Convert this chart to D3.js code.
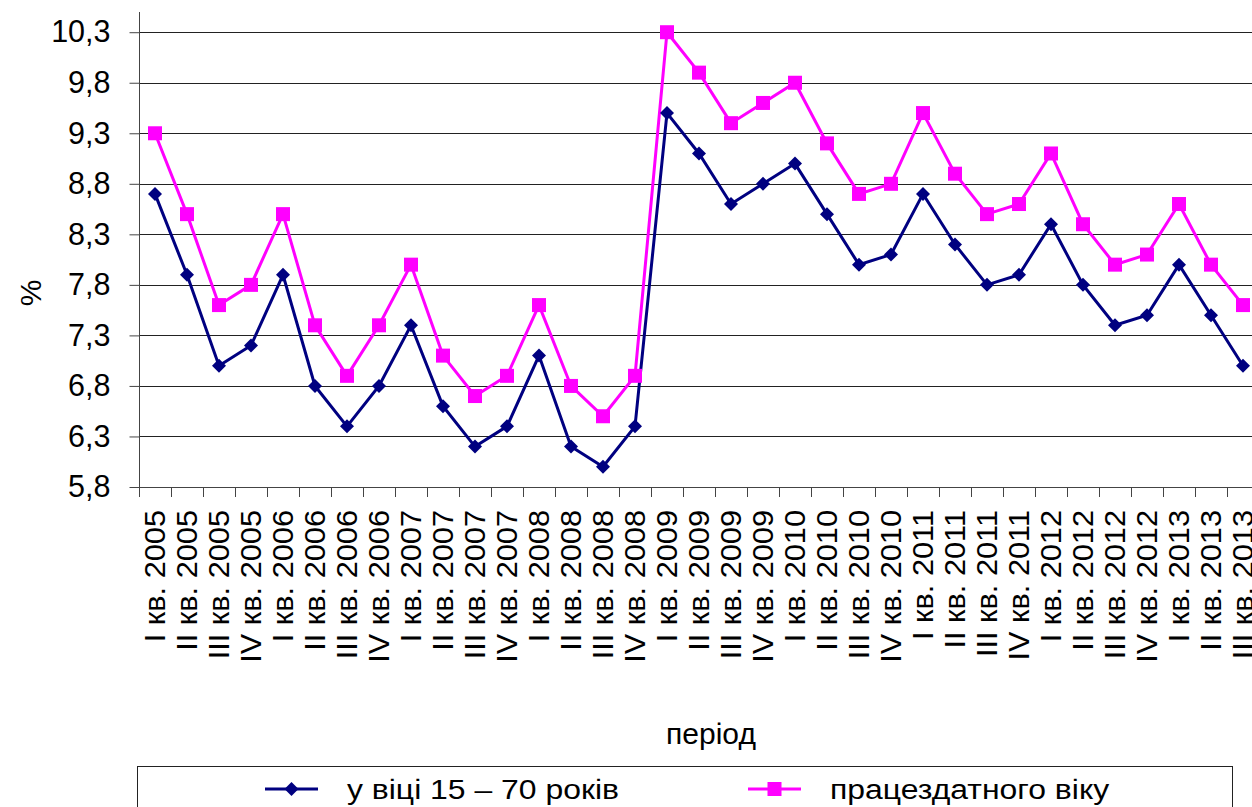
<!DOCTYPE html>
<html>
<head>
<meta charset="utf-8">
<script src="https://cdn.jsdelivr.net/npm/d3@7/dist/d3.min.js"></script>
<style>
  html, body { margin: 0; padding: 0; background: #fff; }
  svg { display: block; font-family: "Liberation Sans", Arial, sans-serif; }
</style>
</head>
<body>
<svg id="chart" width="1252" height="807"></svg>
<script>
// Quarterly unemployment rate, %
const quarters = ["I", "II", "III", "IV"];
const years = [2005, 2006, 2007, 2008, 2009, 2010, 2011, 2012, 2013];
const periods = [];
years.forEach(yr => quarters.forEach(q => {
  if (!(yr === 2013 && q === "IV")) periods.push(q + " кв. " + yr);
}));

const age15to70 = [
  8.7, 7.9, 7.0, 7.2,
  7.9, 6.8, 6.4, 6.8,
  7.4, 6.6, 6.2, 6.4,
  7.1, 6.2, 6.0, 6.4,
  9.5, 9.1, 8.6, 8.8,
  9.0, 8.5, 8.0, 8.1,
  8.7, 8.2, 7.8, 7.9,
  8.4, 7.8, 7.4, 7.5,
  8.0, 7.5, 7.0
];
const workingAge = [
  9.3, 8.5, 7.6, 7.8,
  8.5, 7.4, 6.9, 7.4,
  8.0, 7.1, 6.7, 6.9,
  7.6, 6.8, 6.5, 6.9,
  10.3, 9.9, 9.4, 9.6,
  9.8, 9.2, 8.7, 8.8,
  9.5, 8.9, 8.5, 8.6,
  9.1, 8.4, 8.0, 8.1,
  8.6, 8.0, 7.6
];
const yTicks = [5.8, 6.3, 6.8, 7.3, 7.8, 8.3, 8.8, 9.3, 9.8, 10.3];
const seriesNames = ["у віці 15 – 70 років", "працездатного віку"];

const svg = d3.select("#chart");
const plotLeft = 139, plotTop = 12, plotBottom = 487, bandW = 32;
const plotRight = plotLeft + bandW * periods.length;

const x = d3.scaleBand().domain(periods).range([plotLeft, plotRight]).padding(0);
const y = d3.scaleLinear().domain([5.8, 10.5]).range([plotBottom, plotTop]);
const fmt = v => d3.format(".1f")(v).replace(".", ",");

// horizontal gridlines
svg.append("g").selectAll("line").data(yTicks).join("line")
  .attr("x1", plotLeft).attr("x2", 1252)
  .attr("y1", d => Math.round(y(d)) + 0.5).attr("y2", d => Math.round(y(d)) + 0.5)
  .attr("stroke", "#222").attr("stroke-width", 1);

// y axis
const yAxis = svg.append("g").attr("transform", `translate(${plotLeft + 0.5},0)`)
  .call(d3.axisLeft(y).tickValues(yTicks).tickFormat(fmt).tickSize(10).tickPadding(19));
yAxis.select(".domain").attr("stroke", "#444").attr("d", `M0,${plotTop}V${plotBottom + 0.5}`);
yAxis.selectAll(".tick line").attr("stroke", "#444");
yAxis.selectAll(".tick text").attr("font-size", 30.5).attr("fill", "#000")
  .attr("font-family", "'Liberation Sans', Arial, sans-serif");

// x axis: tick marks on category boundaries
const xg = svg.append("g");
xg.append("line").attr("x1", plotLeft).attr("x2", 1252)
  .attr("y1", plotBottom + 0.5).attr("y2", plotBottom + 0.5).attr("stroke", "#444");
xg.selectAll("line.tk").data(d3.range(periods.length + 1)).join("line")
  .attr("class", "tk")
  .attr("x1", i => Math.round(plotLeft + i * bandW) + 0.5)
  .attr("x2", i => Math.round(plotLeft + i * bandW) + 0.5)
  .attr("y1", plotBottom).attr("y2", plotBottom + 10).attr("stroke", "#444");
xg.selectAll("text").data(periods).join("text")
  .attr("transform", d => `translate(${x(d) + x.bandwidth() / 2},${510}) rotate(-90) scale(1.06,1)`)
  .attr("text-anchor", "end").attr("dy", "0.35em")
  .attr("font-size", 29).attr("fill", "#000")
  .text(d => d);

// axis titles
svg.append("text").attr("transform", "translate(30,293) rotate(-90)")
  .attr("text-anchor", "middle").attr("dy", "0.35em")
  .attr("font-size", 30).text("%");
svg.append("text").attr("x", 711).attr("y", 744)
  .attr("text-anchor", "middle").attr("font-size", 30).text("період");

// series
const cx = (d, i) => x(periods[i]) + x.bandwidth() / 2;
const line = d3.line().x(cx).y(d => y(d));
const colors = ["#000080", "#ff00ff"];

svg.append("path").datum(workingAge).attr("d", line)
  .attr("fill", "none").attr("stroke", colors[1]).attr("stroke-width", 3);
svg.append("path").datum(age15to70).attr("d", line)
  .attr("fill", "none").attr("stroke", colors[0]).attr("stroke-width", 3);

const diamond = s => `M0,${-s}L${s},0L0,${s}L${-s},0Z`;
svg.append("g").selectAll("rect").data(workingAge).join("rect")
  .attr("x", (d, i) => cx(d, i) - 7).attr("y", d => y(d) - 7)
  .attr("width", 14).attr("height", 14).attr("fill", colors[1]);
svg.append("g").selectAll("path").data(age15to70).join("path")
  .attr("transform", (d, i) => `translate(${cx(d, i)},${y(d)})`)
  .attr("d", diamond(7)).attr("fill", colors[0]);

// legend
const lg = svg.append("g");
lg.append("rect").attr("x", 137.5).attr("y", 766.5).attr("width", 1095).attr("height", 60)
  .attr("fill", "#fff").attr("stroke", "#222");
const items = [
  { lx: 265, tx: 347, name: seriesNames[0], c: colors[0], shape: "d" },
  { lx: 748, tx: 830, name: seriesNames[1], c: colors[1], shape: "s" }
];
items.forEach(it => {
  const ly = 789;
  lg.append("line").attr("x1", it.lx).attr("x2", it.lx + 53)
    .attr("y1", ly).attr("y2", ly).attr("stroke", it.c).attr("stroke-width", 3);
  if (it.shape === "d") {
    lg.append("path").attr("transform", `translate(${it.lx + 26.5},${ly})`)
      .attr("d", diamond(7)).attr("fill", it.c);
  } else {
    lg.append("rect").attr("x", it.lx + 26.5 - 7).attr("y", ly - 7)
      .attr("width", 14).attr("height", 14).attr("fill", it.c);
  }
  lg.append("text").attr("transform", `translate(${it.tx},${ly}) scale(1.14,1)`)
    .attr("dy", "0.35em").attr("font-size", 28).text(it.name);
});
</script>
</body>
</html>
